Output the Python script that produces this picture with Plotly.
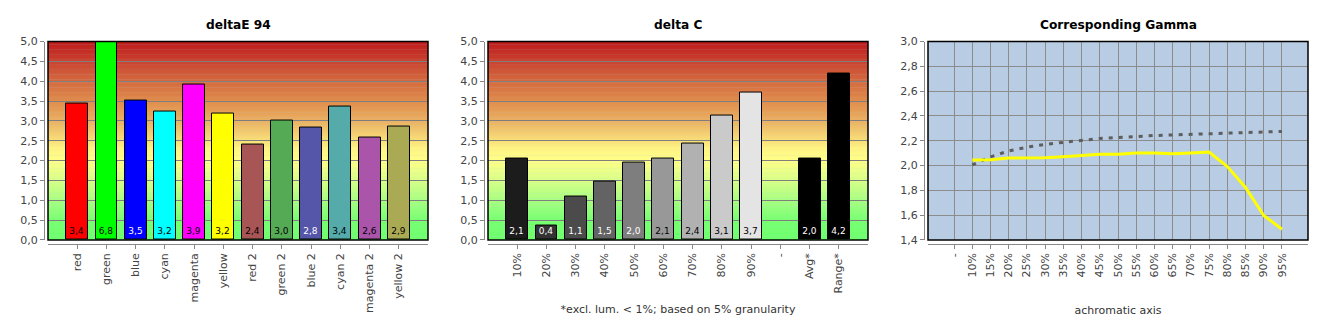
import plotly.graph_objects as go

W, H = 1330, 330

# ---------------- data ----------------
de_cats = ["red", "green", "blue", "cyan", "magenta", "yellow",
           "red 2", "green 2", "blue 2", "cyan 2", "magenta 2", "yellow 2"]
de_vals = [3.43, 6.8, 3.52, 3.24, 3.91, 3.18, 2.40, 3.01, 2.84, 3.37, 2.57, 2.86]
de_colors = ["#FF0000", "#00FF00", "#0000FF", "#00FFFF", "#FF00FF", "#FFFF00",
             "#A85555", "#55AA55", "#5555AA", "#55AAAA", "#AA55AA", "#AAAA55"]
de_textcol = ["black", "black", "white", "black", "black", "black",
              "black", "black", "white", "black", "black", "black"]

dc_cats = ["10%", "20%", "30%", "40%", "50%", "60%", "70%", "80%", "90%",
           "-", "Avg*", "Range*"]
dc_vals = [2.06, 0.37, 1.09, 1.46, 1.96, 2.06, 2.44, 3.13, 3.72, None, 2.04, 4.2]
dc_colors = ["#1C1C1C", "#333333", "#4B4B4B", "#636363", "#7E7E7E", "#989898",
             "#B1B1B1", "#CACACA", "#E4E4E4", "#000000", "#000000", "#000000"]
dc_textcol = ["white", "white", "white", "white", "white", "black",
              "black", "black", "black", "black", "white", "white"]

g_cats = ["-", "10%", "15%", "20%", "25%", "30%", "35%", "40%", "45%", "50%",
          "55%", "60%", "65%", "70%", "75%", "80%", "85%", "90%", "95%"]
g_meas = [None, 2.044, 2.047, 2.06, 2.06, 2.062, 2.07, 2.078, 2.09, 2.09,
          2.10, 2.10, 2.094, 2.10, 2.109, 1.992, 1.823, 1.597, 1.486]
g_ref = [None, 2.005, 2.07, 2.117, 2.148, 2.171, 2.187, 2.203, 2.218, 2.226,
         2.236, 2.242, 2.247, 2.252, 2.257, 2.265, 2.268, 2.273, 2.275]

titles = ["deltaE 94", "delta C", "Corresponding Gamma"]


def fmt(v):
    return "" if v is None else f"{v:.1f}".replace(".", ",")


# ---------------- layout geometry ----------------
FONT = "DejaVu Sans"
px_x = [(48, 428), (488, 868), (928, 1308)]
top_px, bot_px = 37, 243.5
ydom = [(H - bot_px) / H, (H - top_px) / H]
OFF = 4

fig = go.Figure()

fig.add_trace(go.Bar(
    x=de_cats, y=de_vals, marker=dict(color=de_colors, line=dict(color="black", width=1)),
    width=0.75, text=[fmt(v) for v in de_vals], textposition="inside",
    insidetextanchor="start", textangle=0, constraintext="none",
    textfont=dict(family=FONT, size=9, color=de_textcol),
    xaxis="x", yaxis="y", showlegend=False, hoverinfo="skip"))

fig.add_trace(go.Bar(
    x=dc_cats, y=dc_vals, marker=dict(color=dc_colors, line=dict(color="black", width=1)),
    width=0.75, text=[fmt(v) for v in dc_vals], textposition="inside",
    insidetextanchor="start", textangle=0, constraintext="none",
    textfont=dict(family=FONT, size=9, color=dc_textcol),
    xaxis="x2", yaxis="y2", showlegend=False, hoverinfo="skip"))

fig.add_trace(go.Scatter(
    x=g_cats, y=g_ref, mode="lines",
    line=dict(color="#5E5E5E", width=3, dash="4px,6px"),
    xaxis="x3", yaxis="y3", showlegend=False, hoverinfo="skip"))
fig.add_trace(go.Scatter(
    x=g_cats, y=g_meas, mode="lines",
    line=dict(color="#FFFF00", width=3),
    xaxis="x3", yaxis="y3", showlegend=False, hoverinfo="skip"))

tickfont = dict(family=FONT, size=11, color="#444444")
common_x = dict(type="category", showline=True, linecolor="#888888", linewidth=1,
                ticks="outside", ticklen=4, tickcolor="#888888", tickangle=-90,
                tickfont=tickfont, anchor="free", zeroline=False)
common_y = dict(showline=True, linecolor="#888888", linewidth=1,
                ticks="outside", ticklen=4, tickcolor="#888888",
                tickfont=tickfont, anchor="free", tickformat=".1f",
                showgrid=True, gridcolor="#7F7F7F", gridwidth=1, zeroline=False,
                domain=ydom)

xpos = (H - bot_px - OFF) / H
axes = {}
for i, (x0, x1) in enumerate(px_x):
    sx = "" if i == 0 else str(i + 1)
    xa = dict(common_x, domain=[x0 / W, x1 / W], position=xpos)
    ya = dict(common_y, position=(x0 - OFF) / W)
    if i < 2:
        xa.update(range=[-1, 12], showgrid=False, categoryorder="array",
                  categoryarray=[de_cats, dc_cats][i])
        ya.update(range=[0, 5], dtick=0.5, tick0=0)
    else:
        xa.update(range=[-1.43, 19.43], showgrid=True, gridcolor="#8C8C8C",
                  categoryorder="array", categoryarray=g_cats)
        ya.update(range=[1.4, 3.0], dtick=0.2, tick0=1.4, gridcolor="#8C8C8C")
    axes["xaxis" + sx] = xa
    axes["yaxis" + sx] = ya

axes["xaxis2"]["title"] = dict(text="*excl. lum. &lt; 1%; based on 5% granularity",
                               font=dict(family=FONT, size=11, color="#333333"),
                               standoff=12)
axes["xaxis3"]["title"] = dict(text="achromatic axis",
                               font=dict(family=FONT, size=11, color="#333333"),
                               standoff=29)

# gradient background for the two bar charts
stops = [(0.0, (0x6E, 0xFF, 0x6E)), (0.5, (0x78, 0xFF, 0x72)), (1.0, (0xA8, 0xFF, 0x80)),
         (1.5, (0xD8, 0xFF, 0x88)), (2.0, (0xFF, 0xFF, 0x88)), (2.3, (0xFF, 0xF4, 0x84)),
         (2.5, (0xF9, 0xE0, 0x7A)), (3.0, (0xEB, 0xB0, 0x60)), (3.5, (0xE0, 0x8C, 0x4C)),
         (4.0, (0xD4, 0x6A, 0x3E)), (4.5, (0xC9, 0x43, 0x30)), (5.0, (0xBE, 0x1A, 0x1A))]


def colour_at(v):
    for (a, ca), (b, cb) in zip(stops[:-1], stops[1:]):
        if a <= v <= b:
            t = (v - a) / (b - a)
            c = [round(ca[k] + (cb[k] - ca[k]) * t) for k in range(3)]
            return "rgb(%d,%d,%d)" % tuple(c)
    return "rgb(190,26,26)"


shapes = []
N = 120
for sx in ["", "2"]:
    for i in range(N):
        y0 = 5 * i / N
        y1 = 5 * (i + 1) / N
        shapes.append(dict(type="rect", xref="x" + sx + " domain", yref="y" + sx,
                           x0=0, x1=1, y0=y0, y1=y1 + 0.01, layer="below",
                           line=dict(width=0), fillcolor=colour_at((y0 + y1) / 2)))
for sx in ["", "2", "3"]:
    shapes.append(dict(type="rect", xref="x" + sx + " domain", yref="y" + sx + " domain",
                       x0=0, x1=1, y0=0, y1=1, layer="above",
                       line=dict(color="black", width=1.5)))

annotations = []
for i, (x0, x1) in enumerate(px_x):
    annotations.append(dict(text="<b>" + titles[i] + "</b>", x=(x0 + x1) / 2 / W,
                            y=(H - 20) / H,
                            xref="paper", yref="paper", showarrow=False,
                            xanchor="center", yanchor="middle",
                            font=dict(family=FONT, size=12.2, color="black")))

fig.update_layout(width=W, height=H, margin=dict(l=0, r=0, t=0, b=0),
                  paper_bgcolor="white", plot_bgcolor="#B8CCE4",
                  separators=",.", bargap=0, shapes=shapes,
                  annotations=annotations, font=dict(family=FONT), **axes)

fig.write_html("out.html")
